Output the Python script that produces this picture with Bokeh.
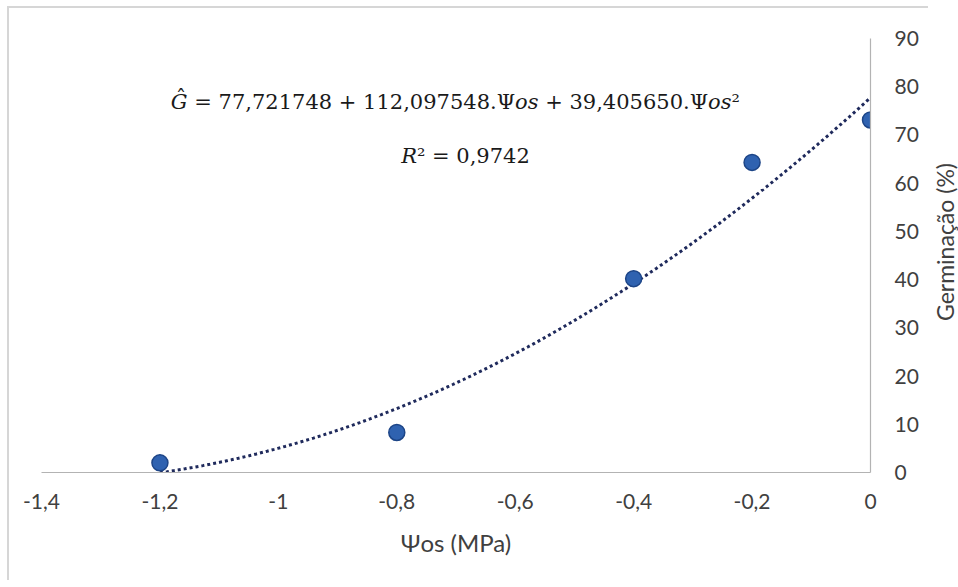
import math
import numpy as np
from bokeh.plotting import figure
from bokeh.models import (Range1d, FixedTicker, CustomJSTickFormatter, ColumnDataSource,
                          Label, Div)
from bokeh.layouts import row
from bokeh.embed import file_html
from bokeh.resources import INLINE

# ---- data ----
psi_os = [-1.2, -0.8, -0.4, -0.2, 0.0]
germinacao = [2.0, 8.3, 40.2, 64.3, 73.1]

# trend-line coefficients shown on the chart
coef_a = 77.721748
coef_b = 112.097548
coef_c = 39.405650

x_ticks = [-1.4, -1.2, -1.0, -0.8, -0.6, -0.4, -0.2, 0.0]
y_ticks = [0, 10, 20, 30, 40, 50, 60, 70, 80, 90]

eq_text = "𝐺̂ = 77,721748 + 112,097548.Ψ𝑜𝑠 + 39,405650.Ψ𝑜𝑠²"
r2_text = "𝑅² = 0,9742"
x_title = "Ψos (MPa)"
y_title = "Germinação (%)"

# ---- figure ----
p = figure(
    frame_width=827, frame_height=432,
    x_range=Range1d(-1.4, 0), y_range=Range1d(0, 90),
    x_axis_location="below", y_axis_location="right",
    output_backend="svg", toolbar_location=None,
    min_border_left=32, min_border_top=30, min_border_right=60, min_border_bottom=110,
    background_fill_color="white", border_fill_color="white",
)
p.styles = {"border-top": "2px solid #d6d6d6", "border-left": "2px solid #d6d6d6",
            "margin-top": "6px", "margin-left": "7px"}
p.outline_line_color = None
p.grid.visible = False

axis_gray = "#b3b3b3"
label_col = "#404040"

fmt = CustomJSTickFormatter(code="""
var s = (Math.round(tick*10)/10).toString();
return s.replace('.', ',');
""")

p.xaxis.ticker = FixedTicker(ticks=x_ticks)
p.xaxis.formatter = fmt
p.xaxis.axis_line_color = axis_gray
p.xaxis.axis_line_width = 1.2
p.xaxis.major_tick_line_color = None
p.xaxis.minor_tick_line_color = None
p.xaxis.major_label_standoff = 15
p.xaxis.major_label_text_font = "Lato"
p.xaxis.major_label_text_font_size = "21px"
p.xaxis.major_label_text_color = label_col
p.xaxis.axis_label = x_title
p.xaxis.axis_label_text_font = "Lato"
p.xaxis.axis_label_text_font_style = "normal"
p.xaxis.axis_label_text_font_size = "24px"
p.xaxis.axis_label_text_color = label_col
p.xaxis.axis_label_standoff = 16

yax = p.yaxis[0]
yax.ticker = FixedTicker(ticks=y_ticks)
yax.axis_line_color = axis_gray
yax.axis_line_width = 1.2
yax.major_tick_line_color = None
yax.minor_tick_line_color = None
yax.major_label_standoff = 18
yax.major_label_text_font = "Lato"
yax.major_label_text_font_size = "21px"
yax.major_label_text_color = label_col

# trend line (polynomial of order 2 over the data range)
xs = np.linspace(min(psi_os), max(psi_os), 200)
ys = coef_a + coef_b * xs + coef_c * xs ** 2
p.line(xs, ys, line_color="#1f2a5c", line_width=3, line_dash="3 3")

src = ColumnDataSource(dict(x=psi_os, y=germinacao))
p.scatter("x", "y", source=src, size=16, fill_color="#2f62b0",
          line_color="#1d4587", line_width=1.5)

p.add_layout(Label(x=-0.701, y=76.9, text=eq_text, text_align="center",
                   text_baseline="middle", text_font="DejaVu Serif",
                   text_font_size="21px", text_color="#1a1a1a"))
p.add_layout(Label(x=-0.684, y=65.6, text=r2_text, text_align="center",
                   text_baseline="middle", text_font="DejaVu Serif",
                   text_font_size="21px", text_color="#1a1a1a"))

# y-axis title, reading bottom-to-top, centred on the plot area
y_title_div = Div(
    text=y_title, width=24, height=474,
    styles={"writing-mode": "vertical-rl", "transform": "rotate(180deg)",
            "text-align": "center", "line-height": "24px",
            "font-family": "Lato", "font-size": "23px", "color": label_col,
            "white-space": "nowrap", "overflow": "visible"},
)

layout = row(p, y_title_div)
open("out.html", "w").write(file_html(layout, INLINE))
